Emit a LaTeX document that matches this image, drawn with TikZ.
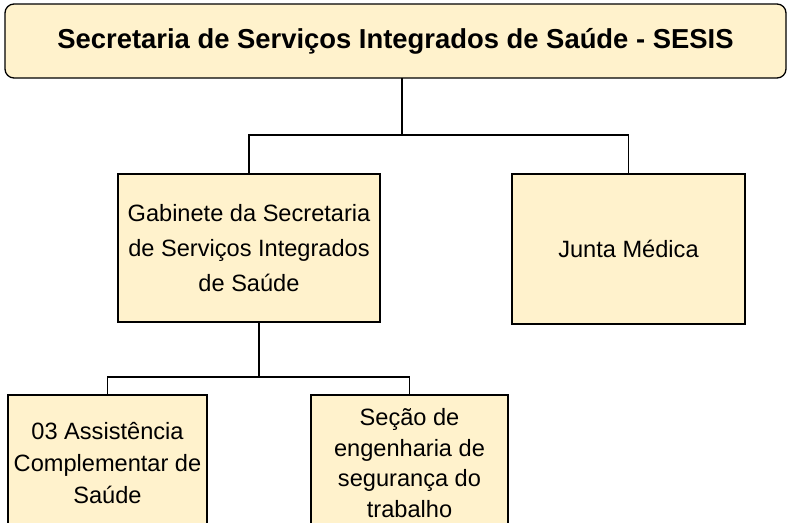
\documentclass[tikz,border=0pt]{standalone}
\usepackage{fontspec}
\setmainfont{Liberation Sans}
\usepackage{tikz}

\begin{document}
\begin{tikzpicture}[x=1pt, y=-1pt, every node/.style={draw=black,
                            fill=yellow!20!orange!15, line width=1.3pt,
                            inner sep=0pt, outer sep=0pt, align=center,
                            font=\fontsize{23.6}{35}\selectfont}]
                \clip (0,0) rectangle (789,522);
                \definecolor{boxfill}{HTML}{FFF2CC}
                \tikzset{every node/.append style={fill=boxfill}}

                \node[rounded corners=9pt, minimum width=781, minimum height=74,
                        font=\bfseries\fontsize{27.4}{33}\selectfont]
                        (SESIS) at (395.5,41) {Secretaria de Serviços Integrados de Saúde - SESIS};
                \node[minimum width=262, minimum height=148]
                        (GAB) at (249,248) {Gabinete da Secretaria\\de Serviços Integrados\\de Saúde};
                \node[minimum width=233, minimum height=150]
                        (JM) at (628.5,249) {Junta Médica};
                \node[minimum width=199, minimum height=136, font=\fontsize{23.6}{32}\selectfont]
                        (ACS) at (107.5,463) {03 Assistência\\Complementar de\\Saúde};
                \node[minimum width=197, minimum height=136, font=\fontsize{23.6}{30.5}\selectfont]
                        (SEST) at (409.5,463) {Seção de\\engenharia de\\segurança do\\trabalho};

                \coordinate (J1) at (402,135);
                \coordinate (J2) at (259,377);
                \draw[line width=1.3pt] (SESIS.south -| J1) -- (J1);
                \draw[line width=1.3pt] (GAB.north) |- (J1) -| (JM.north);
                \draw[line width=2.2pt] (GAB.south -| J2) -- (J2);
                \draw[line width=1.3pt] (ACS.north) |- (J2) -| (SEST.north);
            \end{tikzpicture}
\end{document}
